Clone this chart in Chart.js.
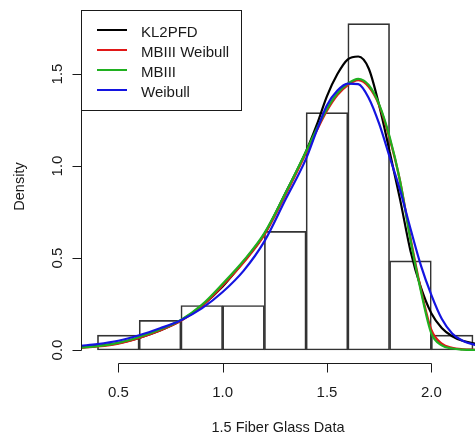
<!DOCTYPE html>
<html>
<head>
<meta charset="utf-8">
<script src="https://cdn.jsdelivr.net/npm/chart.js@4.4.0/dist/chart.umd.min.js"></script>
<style>
  html, body { margin: 0; padding: 0; background: #fff; }
  canvas { display: block; }
</style>
</head>
<body>
<canvas id="chart" width="475" height="435"></canvas>
<script>
/* histogram of the 1.5 cm fiber glass data, bin width 0.2 */
const binMids    = [0.5, 0.7, 0.9, 1.1, 1.3, 1.5, 1.7, 1.9, 2.1];
const binDensity = [0.081, 0.161, 0.242, 0.242, 0.645, 1.290, 1.774, 0.484, 0.081];

/* fitted densities */
const curveX       = [0.32, 0.4, 0.5, 0.6, 0.7, 0.8, 0.9, 1.0, 1.1, 1.2, 1.3, 1.4, 1.45, 1.5, 1.55, 1.6, 1.65, 1.7, 1.75, 1.8, 1.85, 1.9, 1.95, 2.0, 2.05, 2.1, 2.15, 2.22];
const kl2pfd       = [0.015, 0.022, 0.037, 0.066, 0.106, 0.160, 0.240, 0.345, 0.480, 0.630, 0.850, 1.080, 1.220, 1.380, 1.500, 1.580, 1.595, 1.530, 1.330, 1.080, 0.820, 0.540, 0.340, 0.200, 0.120, 0.075, 0.050, 0.032];
const mbiiiWeibull = [0.012, 0.019, 0.035, 0.066, 0.106, 0.158, 0.238, 0.350, 0.475, 0.625, 0.840, 1.070, 1.190, 1.300, 1.385, 1.440, 1.466, 1.430, 1.330, 1.150, 0.920, 0.610, 0.330, 0.110, 0.035, 0.012, 0.004, 0.001];
const mbiii        = [0.013, 0.021, 0.039, 0.071, 0.112, 0.163, 0.245, 0.360, 0.485, 0.635, 0.850, 1.080, 1.200, 1.310, 1.395, 1.448, 1.474, 1.440, 1.335, 1.160, 0.920, 0.600, 0.320, 0.090, 0.025, 0.008, 0.002, 0.000];
const weibull      = [0.023, 0.032, 0.050, 0.080, 0.118, 0.162, 0.226, 0.315, 0.430, 0.590, 0.815, 1.040, 1.190, 1.330, 1.410, 1.448, 1.445, 1.370, 1.230, 1.050, 0.870, 0.660, 0.460, 0.300, 0.170, 0.090, 0.050, 0.024];

const xTicks = [0.5, 1.0, 1.5, 2.0];
const yTicks = [0.0, 0.5, 1.0, 1.5];
const xTitle = '1.5 Fiber Glass Data';
const yTitle = 'Density';

const FONT = '"Liberation Sans", Arial, sans-serif';
const INK = '#1a1a1a';

const pts = ys => curveX.map((x, i) => ({ x, y: ys[i] }));

const curve = (label, ys, color, order) => ({
  type: 'line',
  label,
  data: pts(ys),
  borderColor: color,
  borderWidth: 2.2,
  pointRadius: 0,
  fill: false,
  cubicInterpolationMode: 'monotone',
  order
});

/* R-like axes + legend box, drawn on top */
const rAxes = {
  id: 'rAxes',
  afterDraw(chart) {
    const { ctx, chartArea: a, scales: { x, y } } = chart;
    ctx.save();
    ctx.strokeStyle = INK;
    ctx.fillStyle = INK;
    ctx.lineWidth = 1;

    // x axis
    const xb = a.bottom + 0.5;
    const x0 = Math.round(x.getPixelForValue(xTicks[0])) + 0.5;
    const x1 = Math.round(x.getPixelForValue(xTicks[xTicks.length - 1])) + 0.5;
    ctx.beginPath();
    ctx.moveTo(x0, xb); ctx.lineTo(x1, xb);
    xTicks.forEach(t => {
      const px = Math.round(x.getPixelForValue(t)) + 0.5;
      ctx.moveTo(px, xb); ctx.lineTo(px, xb + 9);
    });
    // y axis
    const yl = a.left + 0.5;
    const y0 = Math.round(y.getPixelForValue(yTicks[0])) + 0.5;
    const y1 = Math.round(y.getPixelForValue(yTicks[yTicks.length - 1])) + 0.5;
    ctx.moveTo(yl, y0); ctx.lineTo(yl, y1);
    yTicks.forEach(t => {
      const py = Math.round(y.getPixelForValue(t)) + 0.5;
      ctx.moveTo(yl, py); ctx.lineTo(yl - 9, py);
    });
    ctx.stroke();

    ctx.font = '15px ' + FONT;
    ctx.textAlign = 'center';
    ctx.textBaseline = 'alphabetic';
    xTicks.forEach(t => ctx.fillText(t.toFixed(1), x.getPixelForValue(t), 396.5));
    yTicks.forEach(t => {
      ctx.save();
      ctx.translate(61.5, y.getPixelForValue(t));
      ctx.rotate(-Math.PI / 2);
      ctx.fillText(t.toFixed(1), 0, 0);
      ctx.restore();
    });

    // titles
    ctx.font = '14.5px ' + FONT;
    ctx.fillText(xTitle, (a.left + a.right) / 2, 432);
    ctx.save();
    ctx.translate(23.5, (a.top + a.bottom) / 2);
    ctx.rotate(-Math.PI / 2);
    ctx.fillText(yTitle, 0, 0);
    ctx.restore();

    // legend
    ctx.strokeRect(a.left + 0.5, a.top + 0.5, 160, 100);
    ctx.font = '15px ' + FONT;
    ctx.textAlign = 'left';
    const lines = chart.data.datasets.filter(d => d.type === 'line');
    lines.forEach((d, i) => {
      const ry = a.top + 20 + i * 20;
      ctx.strokeStyle = d.borderColor;
      ctx.lineWidth = 2;
      ctx.beginPath();
      ctx.moveTo(a.left + 16, ry); ctx.lineTo(a.left + 46, ry);
      ctx.stroke();
      ctx.fillStyle = INK;
      ctx.fillText(d.label, a.left + 60, ry + 6.5);
    });
    ctx.restore();
  }
};

new Chart(document.getElementById('chart'), {
  type: 'bar',
  data: {
    datasets: [
      {
        type: 'bar',
        label: 'hist',
        data: binMids.map((m, i) => ({ x: m, y: binDensity[i] })),
        backgroundColor: 'rgba(0,0,0,0)',
        borderColor: '#333',
        borderWidth: 1,
        borderSkipped: false,
        barPercentage: 1,
        categoryPercentage: 1,
        grouped: false,
        order: 10
      },
      curve('KL2PFD', kl2pfd, '#000000', 4),
      curve('MBIII Weibull', mbiiiWeibull, '#e01818', 3),
      curve('MBIII', mbiii, '#20b020', 2),
      curve('Weibull', weibull, '#1414e0', 1)
    ]
  },
  options: {
    responsive: false,
    animation: false,
    devicePixelRatio: 1,
    layout: { padding: { left: 81, right: 0, top: 10, bottom: 72 } },
    scales: {
      x: { type: 'linear', display: false, offset: false, min: 0.3212, max: 2.2094 },
      y: { type: 'linear', display: false, min: -0.0707, max: 1.8478 }
    },
    plugins: {
      legend: { display: false },
      tooltip: { enabled: false }
    }
  },
  plugins: [rAxes]
});
</script>
</body>
</html>
